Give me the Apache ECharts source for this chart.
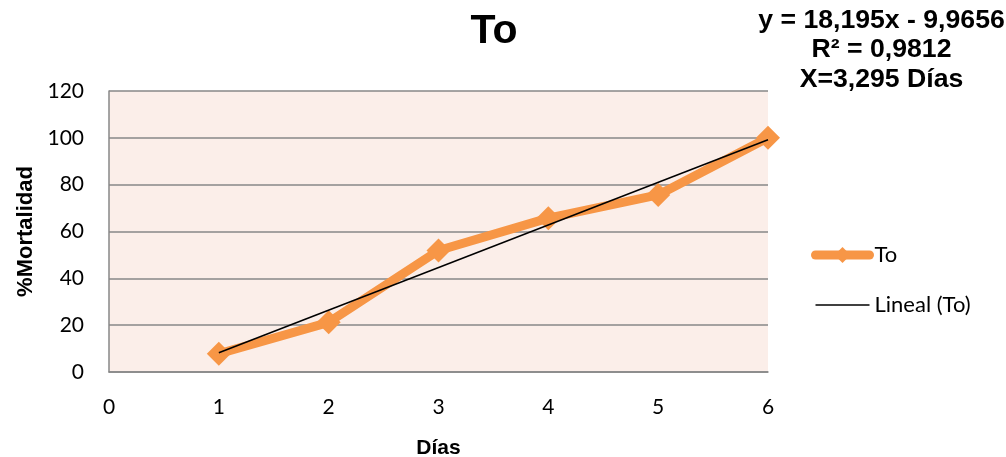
<!DOCTYPE html>
<html>
<head>
<meta charset="utf-8">
<style>
  html, body { margin: 0; padding: 0; background: #ffffff; }
  #chart { width: 1006px; height: 457px; }
</style>
<script src="https://cdn.jsdelivr.net/npm/echarts@6/dist/echarts.min.js"></script>
</head>
<body>
<div id="chart"></div>
<script>
// Días de exposición y % de mortalidad observada
const dias = [1, 2, 3, 4, 5, 6];
const mortalidad = [7.8, 21.2, 51.9, 65.7, 75.6, 100];

// Ajuste lineal (Excel): y = 18,195x - 9,9656
const pendiente = 18.195;
const intercepto = -9.9656;
const textoAjuste = ['y = 18,195x - 9,9656', 'R² = 0,9812', 'X=3,295 Días'];

const xTicks = { min: 0, max: 6, interval: 1 };
const yTicks = { min: 0, max: 120, interval: 20 };

const serieTo = dias.map((d, i) => [d, mortalidad[i]]);
const xIni = dias[0], xFin = dias[dias.length - 1];
const serieLineal = [
  [xIni, pendiente * xIni + intercepto],
  [xFin, pendiente * xFin + intercepto]
];

const tickFont = 'Lato, "Open Sans", sans-serif';
const boldFont = '"Liberation Sans", Arial, sans-serif';
const naranja = '#F79646';

const chart = echarts.init(document.getElementById('chart'), null, { renderer: 'canvas' });
chart.setOption({
  animation: false,
  backgroundColor: '#ffffff',
  title: {
    text: 'To',
    left: 489,
    top: 6,
    textAlign: 'center',
    textStyle: { fontFamily: boldFont, fontWeight: 'bold', fontSize: 41, color: '#000' }
  },
  grid: {
    left: 109, right: 238, top: 91, bottom: 85,
    outerBoundsMode: 'none',
    containLabel: false,
    show: true, backgroundColor: '#FBEEE9', borderWidth: 0
  },
  legend: {
    orient: 'vertical',
    left: 806,
    top: 239,
    itemWidth: 54,
    itemHeight: 20,
    itemGap: 28,
    textStyle: { fontFamily: tickFont, fontSize: 22, color: '#000' },
    data: [
      { name: 'To', lineStyle: { width: 9, color: naranja, cap: 'round' } },
      { name: 'Lineal (To)', itemStyle: { opacity: 0 }, lineStyle: { width: 1.5, color: '#000' } }
    ]
  },
  xAxis: {
    type: 'value',
    min: xTicks.min, max: xTicks.max, interval: xTicks.interval,
    name: 'Días',
    nameLocation: 'middle',
    nameGap: 66,
    nameTextStyle: { fontFamily: boldFont, fontWeight: 'bold', fontSize: 21, color: '#000' },
    axisLine: { show: true, onZero: false, lineStyle: { color: '#878787', width: 1.5 } },
    axisTick: { show: false },
    splitLine: { show: false },
    axisLabel: { fontFamily: tickFont, fontSize: 21, color: '#000', margin: 25 }
  },
  yAxis: {
    type: 'value',
    min: yTicks.min, max: yTicks.max, interval: yTicks.interval,
    name: '%Mortalidad',
    nameLocation: 'middle',
    nameGap: 72,
    nameTextStyle: { fontFamily: boldFont, fontWeight: 'bold', fontSize: 22, color: '#000' },
    axisLine: { show: true, lineStyle: { color: '#878787', width: 1.5 } },
    axisTick: { show: false },
    splitLine: { show: true, lineStyle: { color: '#878787', width: 1.5 } },
    axisLabel: { fontFamily: tickFont, fontSize: 21, color: '#000', margin: 25 }
  },
  series: [
    {
      name: 'To',
      type: 'line',
      data: serieTo,
      symbol: 'diamond',
      symbolSize: 24,
      lineStyle: { color: naranja, width: 9, cap: 'round', join: 'round' },
      itemStyle: { color: naranja },
      z: 2
    },
    {
      name: 'Lineal (To)',
      type: 'line',
      data: serieLineal,
      symbol: 'none',
      lineStyle: { color: '#000', width: 1.5 },
      itemStyle: { color: '#000' },
      z: 3
    }
  ],
  graphic: textoAjuste.map((t, i) => ({
    type: 'text',
    x: 881.5,
    y: 21 + i * 29.5,
    scaleX: 1.065,
    style: {
      text: t,
      x: 0,
      y: 0,
      textAlign: 'center',
      textVerticalAlign: 'middle',
      font: 'bold 25px ' + boldFont,
      fill: '#000'
    }
  }))
});
</script>
</body>
</html>
